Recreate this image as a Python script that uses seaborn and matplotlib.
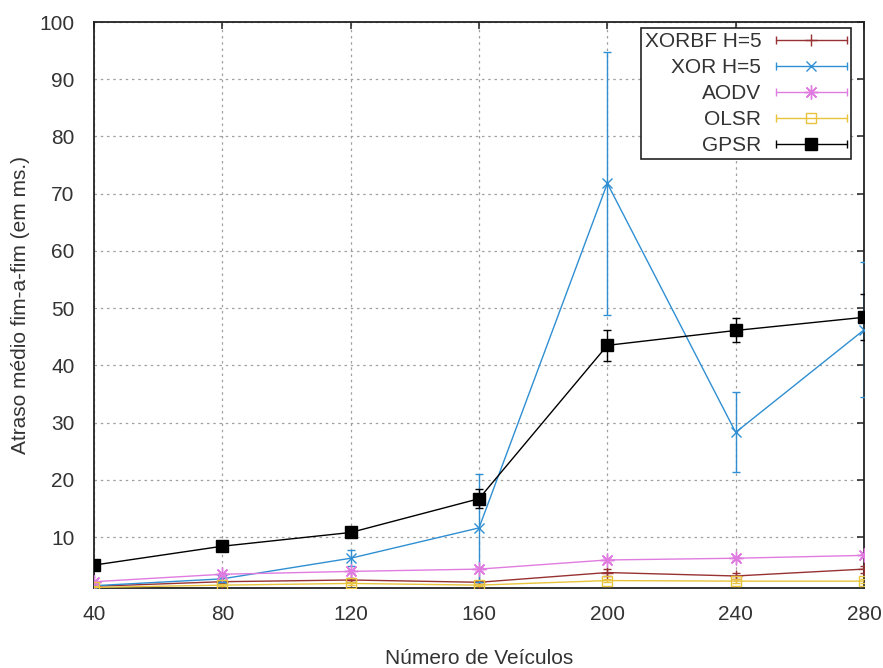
import numpy as np
import pandas as pd
import matplotlib
matplotlib.use("Agg")
import matplotlib.pyplot as plt
from matplotlib.lines import Line2D
from matplotlib.legend_handler import HandlerBase
import seaborn as sns

# Number of vehicles (x axis)
vehicles = [40, 80, 120, 160, 200, 240, 280]

# Mean end-to-end delay (ms) and error half-widths per protocol
xorbf_delay = [1.4, 2.2, 2.5, 2.1, 3.8, 3.2, 4.4]
xorbf_err = [0.2, 0.3, 0.4, 0.3, 0.6, 0.5, 0.6]

xor_delay = [1.5, 2.7, 6.3, 11.6, 71.8, 28.3, 46.2]
xor_err = [0.3, 0.5, 1.4, 9.5, 23.0, 7.0, 11.8]

aodv_delay = [2.2, 3.5, 4.0, 4.4, 6.0, 6.3, 6.8]
aodv_err = [0.2, 0.3, 0.3, 0.3, 0.3, 0.3, 0.3]

olsr_delay = [1.2, 1.6, 1.9, 1.6, 2.4, 2.3, 2.3]
olsr_err = [0.2, 0.2, 0.3, 0.2, 0.3, 0.3, 0.3]

gpsr_delay = [5.1, 8.4, 10.8, 16.7, 43.5, 46.1, 48.4]
gpsr_err = [0.3, 0.4, 0.5, 1.7, 2.7, 2.1, 4.0]

series_names = ["XORBF H=5", "XOR H=5", "AODV", "OLSR", "GPSR"]
series_values = [xorbf_delay, xor_delay, aodv_delay, olsr_delay, gpsr_delay]
series_errors = [xorbf_err, xor_err, aodv_err, olsr_err, gpsr_err]

x_ticks = [40, 80, 120, 160, 200, 240, 280]
y_ticks = [10, 20, 30, 40, 50, 60, 70, 80, 90, 100]

styles = {
    "XORBF H=5": dict(color="#983232", marker="+", ms=8, mfc="none", mew=1.0),
    "XOR H=5": dict(color="#2f8fd2", marker="x", ms=7, mfc="none", mew=1.0),
    "AODV": dict(color="#e07ce0", marker=(8, 2, 0), ms=10, mfc="none", mew=1.0),
    "OLSR": dict(color="#e8c33c", marker="s", ms=7.5, mfc="none", mew=1.0),
    "GPSR": dict(color="#000000", marker="s", ms=8.5, mfc="#000000", mew=1.0),
}

frames = []
for name, vals, errs in zip(series_names, series_values, series_errors):
    frames.append(pd.DataFrame({"veiculos": vehicles, "atraso": vals,
                                "erro": errs, "protocolo": name}))
data = pd.concat(frames, ignore_index=True)

sns.set_theme(style="white")
plt.rcParams["font.family"] = ["Liberation Sans", "DejaVu Sans"]
plt.rcParams["font.size"] = 15

fig = plt.figure(figsize=(8.83, 6.68), dpi=100)
ax = fig.add_axes([94 / 883, 1 - 588 / 668, (864 - 94) / 883, (588 - 22) / 668])

for i, name in enumerate(series_names):
    st = styles[name]
    sub = data[data["protocolo"] == name]
    ax.errorbar(sub["veiculos"], sub["atraso"], yerr=sub["erro"], fmt="none",
                ecolor=st["color"], elinewidth=1.0, capsize=2.6, capthick=1.0,
                zorder=3 + i)
    sns.lineplot(data=sub, x="veiculos", y="atraso", ax=ax, color=st["color"],
                 linewidth=1.0, marker=st["marker"], markersize=st["ms"],
                 markerfacecolor=st["mfc"], markeredgecolor=st["color"],
                 markeredgewidth=st["mew"], legend=False, zorder=3 + i)

ax.set_xlim(40, 280)
ax.set_ylim(1.1, 100)
ax.set_xticks(x_ticks)
ax.set_yticks(y_ticks)
ax.set_xticklabels([str(v) for v in x_ticks])
ax.set_yticklabels([str(v) for v in y_ticks])

ax.grid(True, color="#a0a0a0", linestyle=(0, (2, 3)), linewidth=0.9)
ax.set_axisbelow(True)
for sp in ax.spines.values():
    sp.set_color("#222222")
    sp.set_linewidth(1.3)
    sp.set_visible(True)
ax.tick_params(axis="both", direction="in", length=5, width=1.1, color="#222222",
               top=True, right=True, labelsize=15, labelcolor="#333333")
ax.tick_params(axis="x", pad=12)
ax.tick_params(axis="y", pad=14)

ax.set_xlabel("Número de Veículos", fontsize=15, color="#333333", labelpad=18)
ax.set_ylabel("Atraso médio fim-a-fim (em ms.)", fontsize=15, color="#333333",
              labelpad=7)


class KeySampleHandler(HandlerBase):
    """Key sample: horizontal line with end caps and the point in the middle."""

    def create_artists(self, legend, orig_handle, xdescent, ydescent, width,
                       height, fontsize, trans):
        y = height / 2 - ydescent
        x0, x1 = -xdescent, width - xdescent
        col = orig_handle.get_color()
        line = Line2D([x0, x1], [y, y], color=col, lw=1.0)
        caps = Line2D([x0, x1], [y, y], ls="none", marker="|", ms=6,
                      mew=1.0, color=col)
        mid = Line2D([(x0 + x1) / 2], [y], ls="none",
                     marker=orig_handle.get_marker(),
                     ms=orig_handle.get_markersize(),
                     mfc=orig_handle.get_markerfacecolor(),
                     mec=col, mew=orig_handle.get_markeredgewidth())
        for a in (line, caps, mid):
            a.set_transform(trans)
        return [line, caps, mid]


proxies = []
for name in series_names:
    st = styles[name]
    proxies.append(Line2D([], [], color=st["color"], marker=st["marker"],
                          markersize=st["ms"], markerfacecolor=st["mfc"],
                          markeredgewidth=st["mew"]))

leg = ax.legend(proxies, series_names, loc="upper right",
                bbox_to_anchor=(0.983, 0.989), borderaxespad=0,
                markerfirst=False, fancybox=False, framealpha=1,
                edgecolor="#222222", fontsize=15, handlelength=3.4,
                handletextpad=0.7, labelspacing=0.33, borderpad=0.2,
                handler_map={Line2D: KeySampleHandler()})
leg.get_frame().set_linewidth(1.2)
for t in leg.get_texts():
    t.set_color("#333333")
leg.set_zorder(20)

fig.savefig("out.png", dpi=100)
